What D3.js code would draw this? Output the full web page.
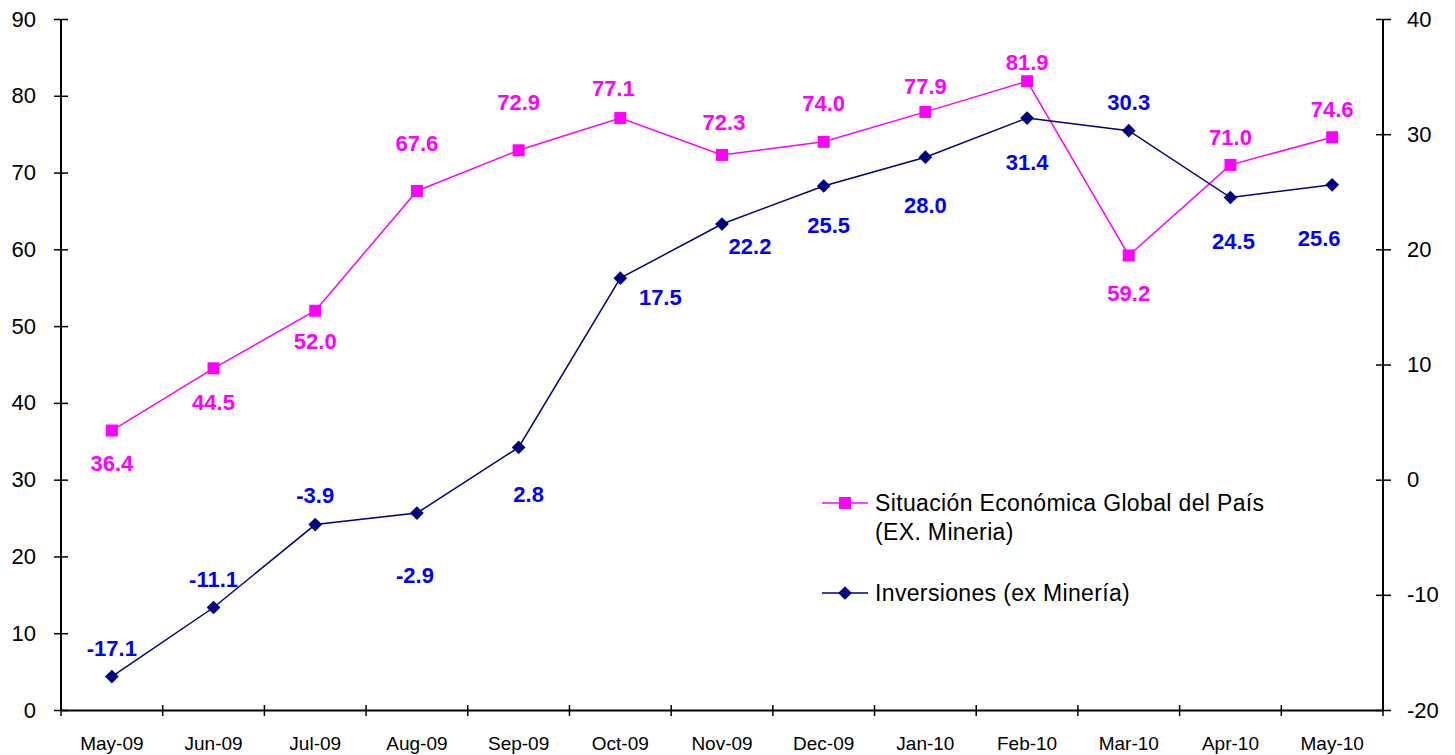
<!DOCTYPE html>
<html>
<head>
<meta charset="utf-8">
<script src="https://cdn.jsdelivr.net/npm/d3@7"></script>
<style>
  body { margin: 0; background: #fff; }
  svg { font-family: Arial, "Liberation Sans", sans-serif; }
</style>
</head>
<body>
<svg id="chart" width="1455" height="755"></svg>
<script>
// data
const months = ['May-09', 'Jun-09', 'Jul-09', 'Aug-09', 'Sep-09', 'Oct-09', 'Nov-09',
  'Dec-09', 'Jan-10', 'Feb-10', 'Mar-10', 'Apr-10', 'May-10'];
const situacion = [36.4, 44.5, 52.0, 67.6, 72.9, 77.1, 72.3, 74.0, 77.9, 81.9, 59.2, 71.0, 74.6];
const inversiones = [-17.1, -11.1, -3.9, -2.9, 2.8, 17.5, 22.2, 25.5, 28.0, 31.4, 30.3, 24.5, 25.6];
const leftTicks = [0, 10, 20, 30, 40, 50, 60, 70, 80, 90];
const rightTicks = [-20, -10, 0, 10, 20, 30, 40];

// label offsets from the point (dx, dy), as placed in the original
const situacionLabelOff = [[0, 33], [0, 34], [0, 31], [0, -48], [0, -48], [-7, -30], [2, -33],
  [0, -39], [0, -26], [0, -19], [0, 38], [0, -28], [0, -28]];
const inversionesLabelOff = [[0, -28], [0, -28], [0, -29], [-2, 62], [10, 47], [40, 19], [28, 22],
  [5, 39], [0, 48], [0, 44], [0, -28], [3, 44], [-13, 53]];

const margin = { left: 61, right: 72, top: 19, bottom: 45 };
const width = 1455, height = 755;
const svg = d3.select('#chart');

const x = d3.scaleBand()
  .domain(months)
  .range([margin.left, width - margin.right]);

const yLeft = d3.scaleLinear()
  .domain([0, 90])
  .range([height - margin.bottom, margin.top]);

const yRight = d3.scaleLinear()
  .domain([-20, 40])
  .range([height - margin.bottom, margin.top]);

const cx = d => x(d) + x.bandwidth() / 2;
const fmt = d => String(d);

// axes
const axisLeft = svg.append('g')
  .attr('transform', 'translate(' + margin.left + ',0)')
  .call(d3.axisLeft(yLeft).tickValues(leftTicks).tickFormat(fmt).tickSize(6).tickPadding(19));
axisLeft.selectAll('.tick line').attr('x2', 7).attr('x1', -7);

const axisRight = svg.append('g')
  .attr('transform', 'translate(' + (width - margin.right) + ',0)')
  .call(d3.axisRight(yRight).tickValues(rightTicks).tickFormat(fmt).tickSize(6).tickPadding(18));
axisRight.selectAll('.tick line').attr('x1', -7).attr('x2', 8);

const axisBottom = svg.append('g')
  .attr('transform', 'translate(0,' + (height - margin.bottom) + ')')
  .call(d3.axisBottom(x).tickSize(0).tickPadding(27));

// category boundary ticks on the x axis
const bounds = months.map(m => x(m)).concat([width - margin.right]);
axisBottom.selectAll('line.bound')
  .data(bounds)
  .enter()
  .append('line')
  .attr('class', 'bound')
  .attr('x1', d => d).attr('x2', d => d)
  .attr('y1', -5).attr('y2', 6)
  .attr('stroke', '#000')
  .attr('stroke-width', 1.5);

[axisLeft, axisRight, axisBottom].forEach(g => {
  g.select('.domain').attr('stroke', '#000').attr('stroke-width', 2);
  g.selectAll('.tick line').attr('stroke', '#000').attr('stroke-width', 1.5);
});
axisLeft.select('.domain').attr('d', 'M0,' + margin.top + 'V' + (height - margin.bottom));
axisRight.select('.domain').attr('d', 'M0,' + margin.top + 'V' + (height - margin.bottom));
axisLeft.selectAll('text').style('font-size', '22px').attr('fill', '#000');
axisRight.selectAll('text').style('font-size', '22px').attr('fill', '#000');
axisBottom.selectAll('text').style('font-size', '19px').attr('fill', '#000');

// lines
const pink = '#ff00ff', navy = '#000080', blue = '#0000ff';

svg.append('path')
  .datum(situacion)
  .attr('fill', 'none')
  .attr('stroke', pink)
  .attr('stroke-width', 1.5)
  .attr('d', d3.line().x((d, i) => cx(months[i])).y(d => yLeft(d)));

svg.append('path')
  .datum(inversiones)
  .attr('fill', 'none')
  .attr('stroke', navy)
  .attr('stroke-width', 1.5)
  .attr('d', d3.line().x((d, i) => cx(months[i])).y(d => yRight(d)));

// markers
svg.selectAll('rect.sit')
  .data(situacion)
  .enter()
  .append('rect')
  .attr('class', 'sit')
  .attr('x', (d, i) => cx(months[i]) - 6)
  .attr('y', d => yLeft(d) - 6)
  .attr('width', 12)
  .attr('height', 12)
  .attr('fill', pink);

const diamond = d3.symbol().type(d3.symbolDiamond2).size(120);
svg.selectAll('path.inv')
  .data(inversiones)
  .enter()
  .append('path')
  .attr('class', 'inv')
  .attr('d', diamond)
  .attr('transform', (d, i) => 'translate(' + cx(months[i]) + ',' + yRight(d) + ')')
  .attr('fill', navy);

// data labels
svg.selectAll('text.lsit')
  .data(situacion)
  .enter()
  .append('text')
  .attr('class', 'lsit')
  .attr('x', (d, i) => cx(months[i]) + situacionLabelOff[i][0])
  .attr('y', (d, i) => yLeft(d) + situacionLabelOff[i][1])
  .attr('dy', '0.35em')
  .attr('text-anchor', 'middle')
  .attr('fill', pink)
  .style('font-size', '22px')
  .style('font-weight', 'bold')
  .text(d => d.toFixed(1));

svg.selectAll('text.linv')
  .data(inversiones)
  .enter()
  .append('text')
  .attr('class', 'linv')
  .attr('x', (d, i) => cx(months[i]) + inversionesLabelOff[i][0])
  .attr('y', (d, i) => yRight(d) + inversionesLabelOff[i][1])
  .attr('dy', '0.35em')
  .attr('text-anchor', 'middle')
  .attr('fill', blue)
  .style('font-size', '22px')
  .style('font-weight', 'bold')
  .text(d => d.toFixed(1));

// legend
const legend = svg.append('g').attr('transform', 'translate(822,0)');

legend.append('line')
  .attr('x1', 0).attr('x2', 46).attr('y1', 503).attr('y2', 503)
  .attr('stroke', pink).attr('stroke-width', 1.5);
legend.append('rect')
  .attr('x', 17).attr('y', 497).attr('width', 12).attr('height', 12)
  .attr('fill', pink);
legend.append('text')
  .attr('x', 53).attr('y', 503).attr('dy', '0.35em')
  .style('font-size', '23px')
  .style('letter-spacing', '0.35px')
  .text('Situación Económica Global del País');
legend.append('text')
  .attr('x', 53).attr('y', 532).attr('dy', '0.35em')
  .style('font-size', '23px')
  .style('letter-spacing', '0.35px')
  .text('(EX. Mineria)');

legend.append('line')
  .attr('x1', 0).attr('x2', 46).attr('y1', 593).attr('y2', 593)
  .attr('stroke', navy).attr('stroke-width', 1.5);
legend.append('path')
  .attr('d', diamond)
  .attr('transform', 'translate(23,593)')
  .attr('fill', navy);
legend.append('text')
  .attr('x', 53).attr('y', 593).attr('dy', '0.35em')
  .style('font-size', '23px')
  .style('letter-spacing', '0.35px')
  .text('Inversiones (ex Minería)');
</script>
</body>
</html>
